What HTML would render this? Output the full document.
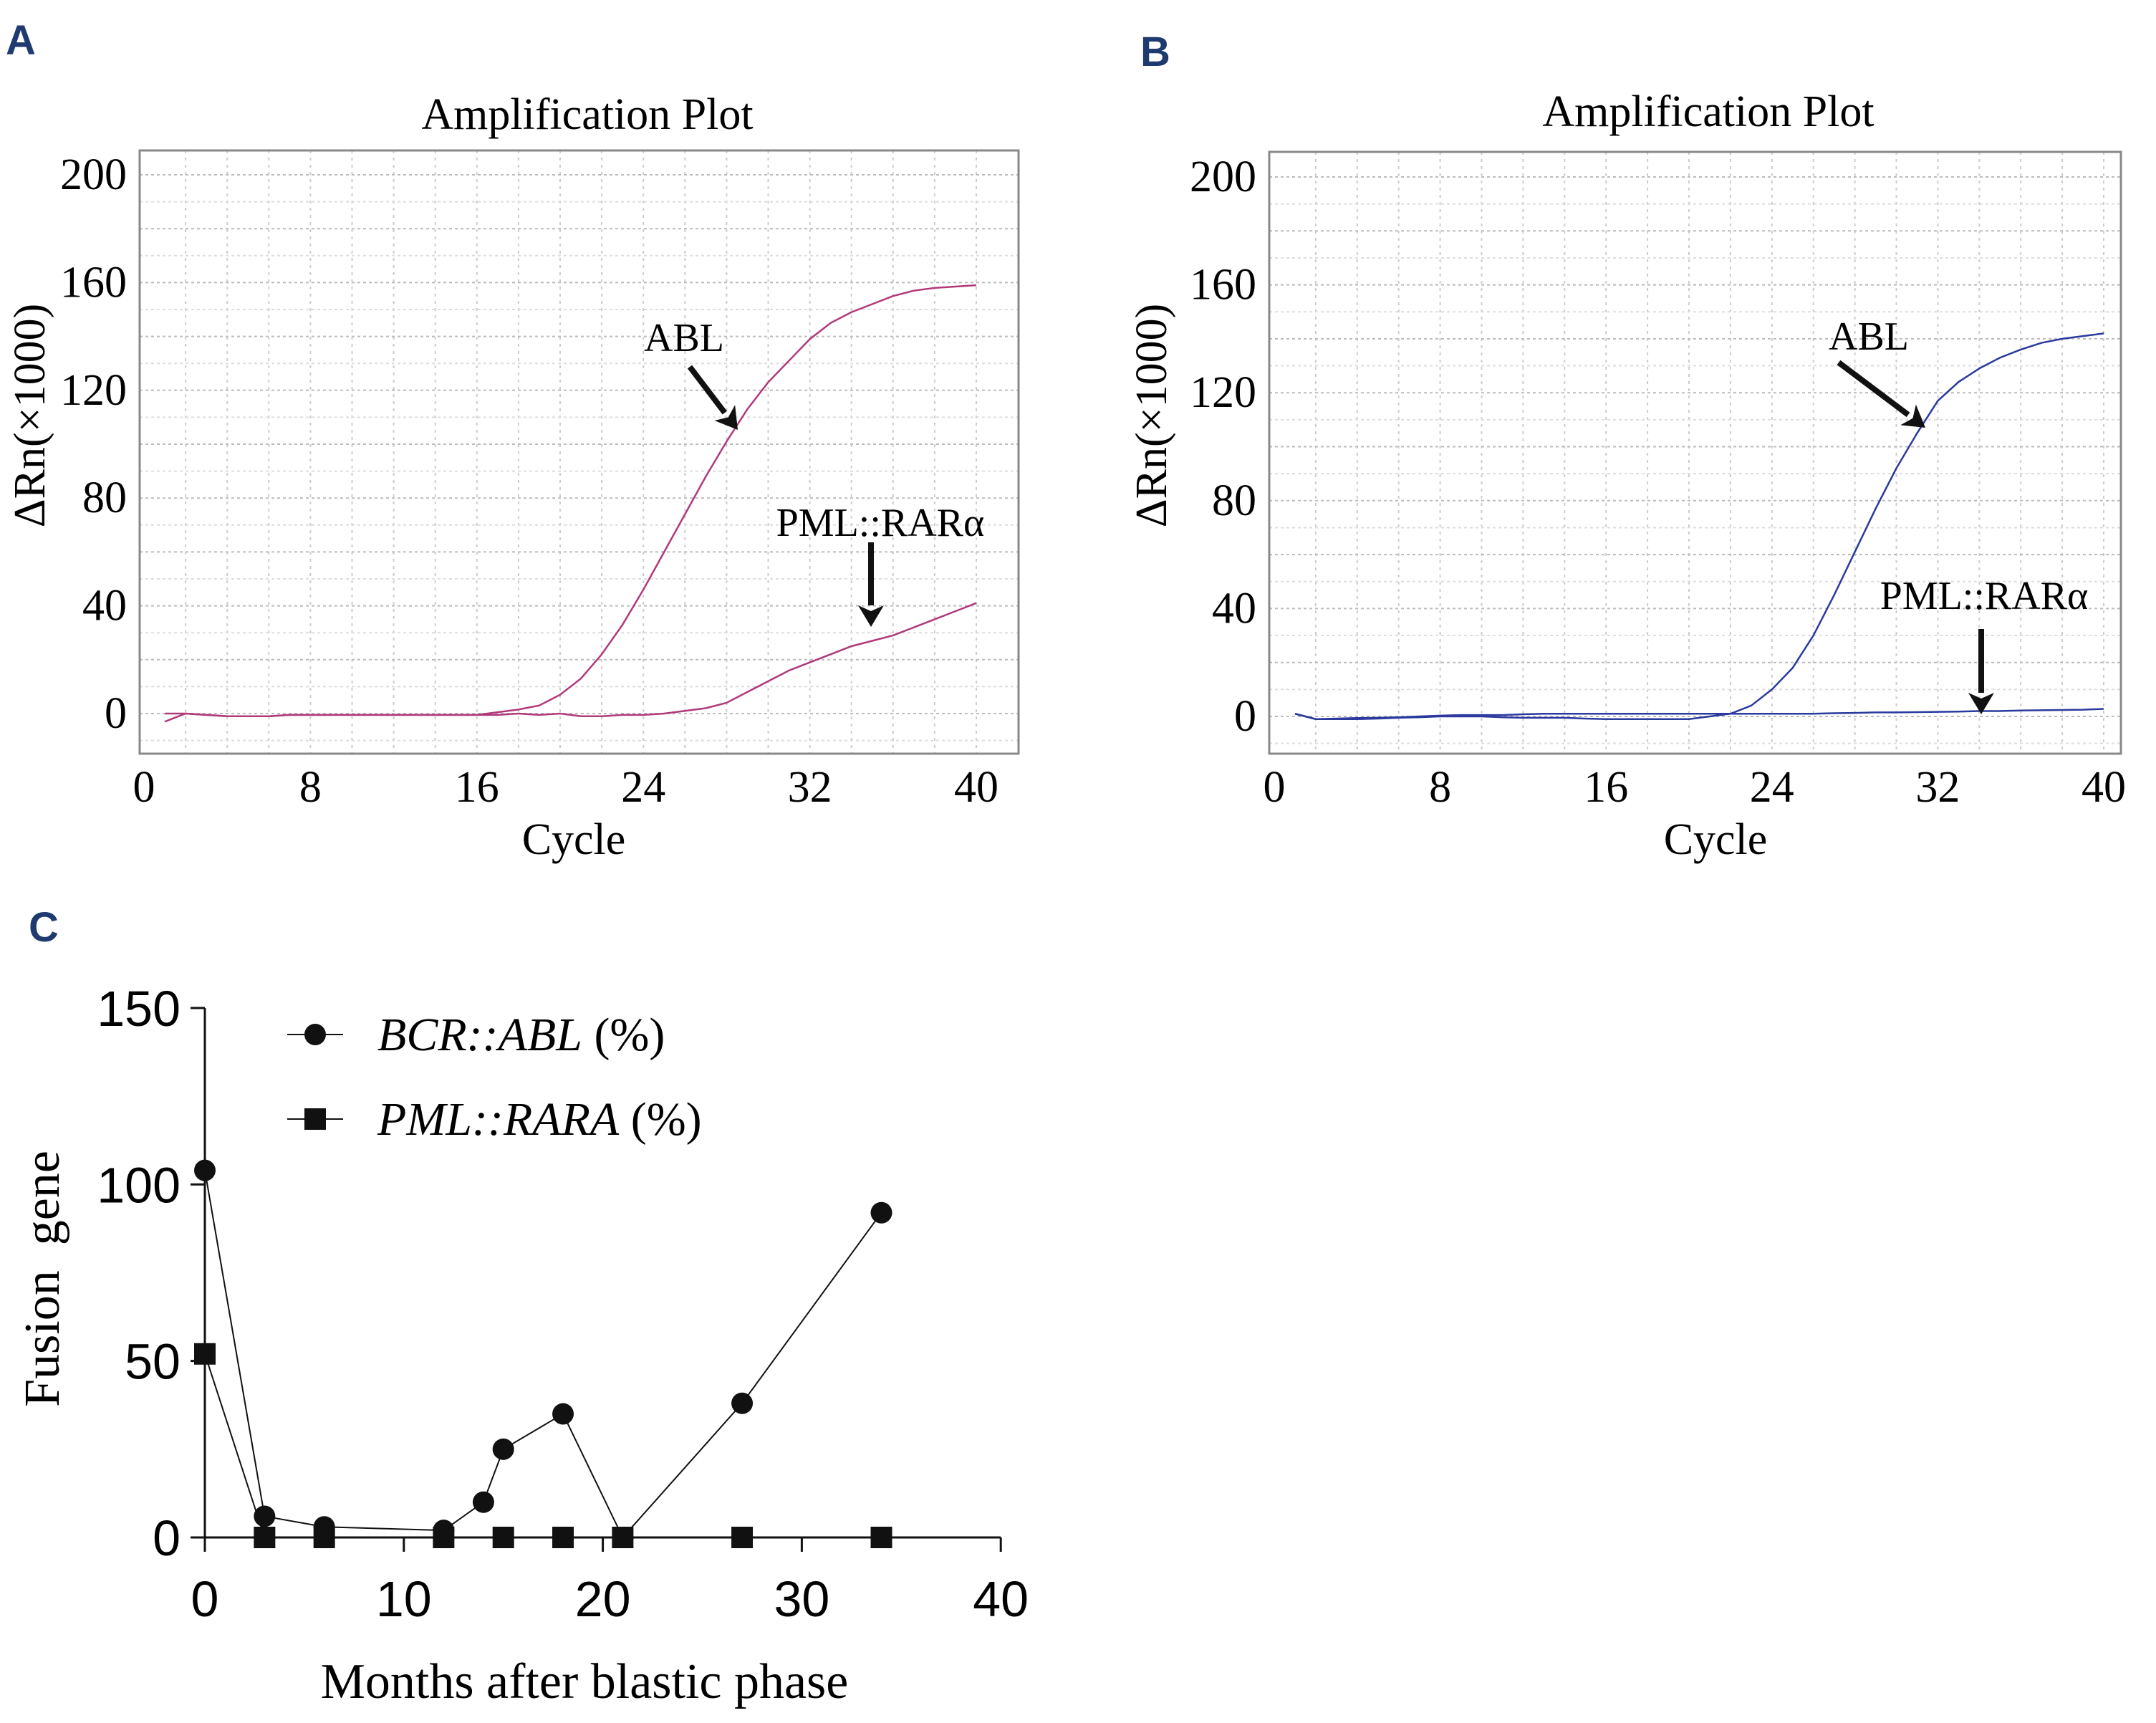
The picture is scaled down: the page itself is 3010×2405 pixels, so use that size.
<!DOCTYPE html>
<html><head><meta charset="utf-8"><style>
html,body{margin:0;padding:0;background:#fff;}
svg{display:block;}
</style></head><body>
<svg id="fig" width="3010" height="2405" viewBox="0 0 3010 2405" xmlns="http://www.w3.org/2000/svg" font-family="'Liberation Serif', serif">
<text x="8" y="76" font-family="'Liberation Sans',sans-serif" font-weight="bold" font-size="58" fill="#1f3a6e">A</text>
<text x="1592" y="92" font-family="'Liberation Sans',sans-serif" font-weight="bold" font-size="58" fill="#1f3a6e">B</text>
<text x="40" y="1314" font-family="'Liberation Sans',sans-serif" font-weight="bold" font-size="58" fill="#1f3a6e">C</text>
<g id="pa"></g>
<g id="pb"></g>
<g id="pc"></g>
</svg>
<script>
const cycles = [1,2,3,4,5,6,7,8,9,10,11,12,13,14,15,16,17,18,19,20,21,22,23,24,25,26,27,28,29,30,31,32,33,34,35,36,37,38,39,40];
const aAbl = [-3,0,-0.5,-1,-1,-1,-0.5,-0.5,-0.5,-0.5,-0.5,-0.5,-0.5,-0.5,-0.5,-0.5,0.5,1.5,3,7,13,22,33,46,60,74,88,101,113,123,131,139,145,149,152,155,157,158,158.5,159];
const aPml = [0,0,-0.5,-1,-1,-1,-0.5,-0.5,-0.5,-0.5,-0.5,-0.5,-0.5,-0.5,-0.5,-0.5,-0.5,0,-0.5,0,-1,-1,-0.5,-0.5,0,1,2,4,8,12,16,19,22,25,27,29,32,35,38,41];
const bAbl = [1,-1,-1,-1,-0.8,-0.5,-0.3,0,0,0,-0.3,-0.5,-0.5,-0.5,-0.8,-1,-1,-1,-1,-1,0,1,4,10,18,30,45,61,77,92,105,117,124,129,133,136,138.5,140,141,142];
const bPml = [1,-1,-0.8,-0.6,-0.5,-0.3,0,0.3,0.5,0.5,0.5,0.8,1,1,1,1,1,1,1,1,1,1,1,1,1,1,1.2,1.3,1.5,1.5,1.6,1.7,1.8,2,2,2.2,2.3,2.4,2.5,2.8];
const aTicksX = [0,8,16,24,32,40];
const aTicksY = [0,40,80,120,160,200];
const cMonthsBcr = [0,3,6,12,14,15,18,21,27,34];
const cBcr = [104,6,3,2,10,25,35,0,38,92];
const cMonthsPml = [0,3,6,12,15,18,21,27,34];
const cPml = [52,0,0,0,0,0,0,0,0];
const cTicksX = [0,10,20,30,40];
const cTicksY = [0,50,100,150];

const NS='http://www.w3.org/2000/svg';
function mk(parent,tag,attrs,text){const e=document.createElementNS(NS,tag);for(const k in attrs)e.setAttribute(k,attrs[k]);if(text!==undefined)e.textContent=text;parent.appendChild(e);return e;}

function amp(g,cfg){
  const sx=c=>cfg.x0+c*cfg.xs, sy=v=>cfg.y0-v*cfg.ys;
  for(let c=2;c<=40;c+=2){const l=mk(g,'line',{x1:sx(c),x2:sx(c),y1:cfg.top,y2:cfg.bot,stroke:'#ccc','stroke-width':2,'stroke-dasharray':'4 6'});
    
    }
  for(let v=-10;v<=200;v+=10){const l=mk(g,'line',{x1:cfg.left,x2:cfg.right,y1:sy(v),y2:sy(v),stroke:v%20===0?'#bbb':'#ddd','stroke-width':2,'stroke-dasharray':'4 4'});
    
    }
  const box=mk(g,'rect',{x:cfg.left,y:cfg.top,width:cfg.right-cfg.left,height:cfg.bot-cfg.top,fill:'none',stroke:'#888','stroke-width':3});
  
  
  aTicksX.forEach(t=>{const e=mk(g,'text',{x:sx(t),y:cfg.bot+67,'font-size':62,'text-anchor':'middle'},t);
    
    });
  aTicksY.forEach(t=>{const e=mk(g,'text',{x:cfg.left-18,y:sy(t)+20,'font-size':62,'text-anchor':'end'},t);
    
    });
  const tt=mk(g,'text',{x:cfg.tx,y:cfg.ty,'font-size':62,'text-anchor':'middle'},'Amplification Plot');
  
  
  const xt=mk(g,'text',{x:cfg.xtx,y:1192,'font-size':62,'text-anchor':'middle'},'Cycle');
  
  
  const yt=mk(g,'text',{x:0,y:0,'font-size':62,'text-anchor':'middle',transform:`translate(${cfg.ytx},580) rotate(-90)`},'ΔRn(×1000)');
  
  
  [[cfg.s1,'abl-curve'],[cfg.s2,'pml-rara-curve']].forEach(([s,n])=>{
    const p=mk(g,'polyline',{points:cycles.map((c,i)=>sx(c)+','+sy(s[i])).join(' '),fill:'none',stroke:cfg.color,'stroke-width':2.5});
    
    
  });
  cfg.anns.forEach(a=>{
    const t=mk(g,'text',{x:a.tx,y:a.ty,'font-size':56,'text-anchor':'middle'},a.label);
    
    
    const dx=a.x2-a.x1, dy=a.y2-a.y1, L=Math.hypot(dx,dy), ux=dx/L, uy=dy/L;
    const bx=a.x2-ux*30, by=a.y2-uy*30;
    const ln=mk(g,'line',{x1:a.x1,y1:a.y1,x2:bx,y2:by,stroke:'#111','stroke-width':8});
    
    
    const hd=mk(g,'polygon',{points:`${a.x2},${a.y2} ${bx-uy*18},${by+ux*18} ${a.x2-ux*22},${a.y2-uy*22} ${bx+uy*18},${by-ux*18}`,fill:'#111'});
    
    
  });
}
amp(document.getElementById('pa'),{x0:201,xs:29.05,y0:996,ys:3.76,left:195,right:1422,top:210,bot:1052,tx:820,ty:180,xtx:801,ytx:62,color:'#b03a7a',s1:aAbl,s2:aPml,
  anns:[{label:'ABL',tx:955,ty:490,x1:963,y1:512,x2:1030,y2:600},{label:'PML::RARα',tx:1229,ty:748,x1:1216,y1:757,x2:1216,y2:875}]});
amp(document.getElementById('pb'),{x0:1779,xs:28.95,y0:1000,ys:3.765,left:1772,right:2961,top:212,bot:1052,tx:2385,ty:176,xtx:2395,ytx:1628,color:'#2b3a9e',s1:bAbl,s2:bPml,
  anns:[{label:'ABL',tx:2609,ty:488,x1:2567,y1:506,x2:2688,y2:597},{label:'PML::RARα',tx:2770,ty:850,x1:2766,y1:878,x2:2766,y2:997}]});

(function(){
  const g=document.getElementById('pc');
  const sx=m=>286+m*27.78, sy=v=>2146-v*4.927;
  const ax=mk(g,'path',{d:`M${sx(0)},${sy(150)} L${sx(0)},${sy(0)} M${sx(0)-4},${sy(0)} L${sx(40)},${sy(0)}`,stroke:'#111','stroke-width':3,fill:'none'});
  
  
  cTicksX.forEach(t=>{mk(g,'line',{x1:sx(t),x2:sx(t),y1:sy(0),y2:sy(0)+20,stroke:'#111','stroke-width':3});
    const e=mk(g,'text',{x:sx(t),y:2256,'font-size':70,'text-anchor':'middle','font-family':"'Liberation Sans',sans-serif"},t);
    
    });
  cTicksY.forEach(t=>{mk(g,'line',{x1:sx(0)-20,x2:sx(0),y1:sy(t),y2:sy(t),stroke:'#111','stroke-width':3});
    const e=mk(g,'text',{x:sx(0)-34,y:sy(t)+25,'font-size':70,'text-anchor':'end','font-family':"'Liberation Sans',sans-serif"},t);
    
    });
  const l1=mk(g,'polyline',{points:cMonthsBcr.map((m,i)=>sx(m)+','+sy(cBcr[i])).join(' '),fill:'none',stroke:'#111','stroke-width':2});
  
  
  const l2=mk(g,'polyline',{points:cMonthsPml.map((m,i)=>sx(m)+','+sy(cPml[i])).join(' '),fill:'none',stroke:'#111','stroke-width':2});
  
  
  cMonthsPml.forEach((m,i)=>{const r=mk(g,'rect',{x:sx(m)-15,y:sy(cPml[i])-15,width:30,height:30,fill:'#111'});
    
    });
  cMonthsBcr.forEach((m,i)=>{const c=mk(g,'circle',{cx:sx(m),cy:sy(cBcr[i]),r:15,fill:'#111'});
    
    });
  mk(g,'line',{x1:401,x2:479,y1:1444,y2:1444,stroke:'#111','stroke-width':2});
  const lc=mk(g,'circle',{cx:440,cy:1444,r:15,fill:'#111'});
  
  
  const t1=mk(g,'text',{x:527,y:1466,'font-size':66},'');
  
  
  mk(t1,'tspan',{'font-style':'italic'},'BCR::ABL');mk(t1,'tspan',{},' (%)');
  mk(g,'line',{x1:401,x2:479,y1:1562,y2:1562,stroke:'#111','stroke-width':2});
  const ls=mk(g,'rect',{x:425,y:1547,width:30,height:30,fill:'#111'});
  
  
  const t2=mk(g,'text',{x:527,y:1584,'font-size':66},'');
  
  
  mk(t2,'tspan',{'font-style':'italic'},'PML::RARA');mk(t2,'tspan',{},' (%)');
  const yt=mk(g,'text',{x:0,y:0,'font-size':70,'text-anchor':'middle',transform:'translate(82,1785) rotate(-90)','xml:space':'preserve'},'Fusion\u00a0\u00a0gene');
  
  
  const xt=mk(g,'text',{x:816,y:2370,'font-size':70,'text-anchor':'middle'},'Months after blastic phase');
  
  
})();
</script>
</body></html>
